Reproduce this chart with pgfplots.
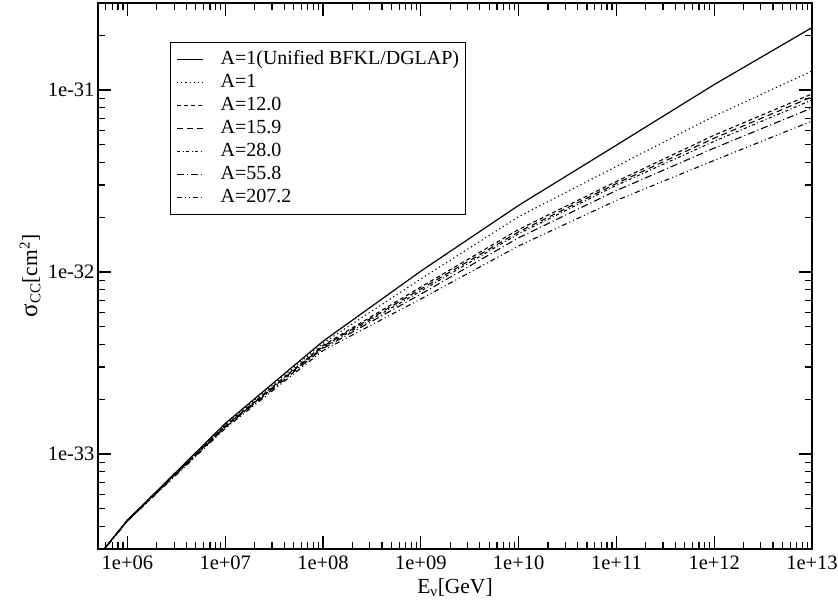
\documentclass[border=0pt]{standalone}
\usepackage{pgfplots}
\pgfplotsset{compat=1.18}
\usepackage{pgfplotstable}
\usepackage{fontspec}
\setmainfont{Liberation Serif}

\pgfplotstableread{
x      s        d        a12      a159     a28      a558     a2072
5e5    2.73e-34 2.73e-34 2.73e-34 2.73e-34 2.72e-34 2.72e-34 2.71e-34
1e6    4.33e-34 4.33e-34 4.32e-34 4.31e-34 4.30e-34 4.29e-34 4.27e-34
1e7    1.47e-33 1.45e-33 1.43e-33 1.42e-33 1.41e-33 1.40e-33 1.38e-33
1e8    4.16e-33 4.06e-33 3.95e-33 3.90e-33 3.85e-33 3.80e-33 3.70e-33
1e9    1.01e-32 9.15e-33 8.26e-33 8.05e-33 7.85e-33 7.55e-33 7.10e-33
1e10   2.32e-32 2.01e-32 1.71e-32 1.66e-32 1.62e-32 1.54e-32 1.39e-32
1e11   4.97e-32 3.80e-32 3.14e-32 3.06e-32 2.99e-32 2.80e-32 2.47e-32
1e12   1.07e-31 7.18e-32 5.64e-32 5.43e-32 5.22e-32 4.79e-32 4.10e-32
1e13   2.20e-31 1.27e-31 9.50e-32 9.15e-32 8.80e-32 7.96e-32 6.74e-32
}\data

\begin{document}
\begin{tikzpicture}
\begin{axis}[
  at={(0,0)}, anchor=south west,
  scale only axis, width=714pt, height=546pt,
  xmode=log, ymode=log,
  xmin=5e5, xmax=1e13, ymin=3e-34, ymax=3e-31,
  xtick={1e6,1e7,1e8,1e9,1e10,1e11,1e12,1e13},
  xticklabels={1e+06,1e+07,1e+08,1e+09,1e+10,1e+11,1e+12,1e+13},
  minor xtick={6e5,7e5,8e5,9e5,
    2e6,3e6,4e6,5e6,6e6,7e6,8e6,9e6,
    2e7,3e7,4e7,5e7,6e7,7e7,8e7,9e7,
    2e8,3e8,4e8,5e8,6e8,7e8,8e8,9e8,
    2e9,3e9,4e9,5e9,6e9,7e9,8e9,9e9,
    2e10,3e10,4e10,5e10,6e10,7e10,8e10,9e10,
    2e11,3e11,4e11,5e11,6e11,7e11,8e11,9e11,
    2e12,3e12,4e12,5e12,6e12,7e12,8e12,9e12},
  ytick={1e-33,1e-32,1e-31},
  yticklabels={1e-33,1e-32,1e-31},
  minor ytick={4e-34,5e-34,6e-34,7e-34,8e-34,9e-34,
    2e-33,3e-33,4e-33,5e-33,6e-33,7e-33,8e-33,9e-33,
    2e-32,3e-32,4e-32,5e-32,6e-32,7e-32,8e-32,9e-32,
    2e-31},
  tick align=inside,
  major tick length=13pt, minor tick length=7pt,
  axis line style={line width=1.5pt},
  every tick/.style={line width=1.2pt, black},
  tick label style={font=\fontsize{20.5}{24}\selectfont},
  xticklabel style={yshift=-3pt},
  every axis x label/.style={at={(axis description cs:0.5,-0.0714)}, anchor=center, font=\fontsize{21.5}{24}\selectfont},
  every axis y label/.style={at={(axis description cs:-0.0952,0.5)}, rotate=90, anchor=center, font=\fontsize{21.5}{24}\selectfont},
  xlabel={E\textsubscript{ν}[GeV]},
  ylabel={{\fontsize{25}{24}\selectfont σ}\textsubscript{CC}[cm\textsuperscript{2}]},
  legend image code/.code={\draw[#1] (0pt,0pt) -- (26pt,0pt);},
  legend cell align=left,
  legend style={at={(0.1008,0.9286)}, anchor=north west,
    draw=black, line width=1pt, inner xsep=6pt, inner ysep=7pt,
    font=\fontsize{20}{24}\selectfont, row sep=3pt,
    nodes={inner sep=0pt, text height=15pt, text depth=5pt},
    /tikz/every odd column/.append style={column sep=17pt}},
]
\addplot[black, line width=1.2pt] table[x=x, y=s] {\data};
\addlegendentry{A=1(Unified BFKL/DGLAP)}
\addplot[black, line width=1.1pt, dash pattern=on 1.2pt off 3pt] table[x=x, y=d] {\data};
\addlegendentry{A=1}
\addplot[black, line width=1.1pt, dash pattern=on 4pt off 3pt] table[x=x, y=a12] {\data};
\addlegendentry{A=12.0}
\addplot[black, line width=1.1pt, dash pattern=on 6pt off 4pt] table[x=x, y=a159] {\data};
\addlegendentry{A=15.9}
\addplot[black, line width=1.1pt, dash pattern=on 3pt off 2.5pt on 1pt off 2.5pt] table[x=x, y=a28] {\data};
\addlegendentry{A=28.0}
\addplot[black, line width=1.1pt, dash pattern=on 7pt off 3pt on 1pt off 3pt] table[x=x, y=a558] {\data};
\addlegendentry{A=55.8}
\addplot[black, line width=1.1pt, dash pattern=on 5pt off 3pt on 1pt off 3pt on 1pt off 3pt] table[x=x, y=a2072] {\data};
\addlegendentry{A=207.2}
\end{axis}
\pgfresetboundingbox
\path[use as bounding box] (-98pt,-52pt) rectangle (740pt,549pt);
\end{tikzpicture}
\end{document}
